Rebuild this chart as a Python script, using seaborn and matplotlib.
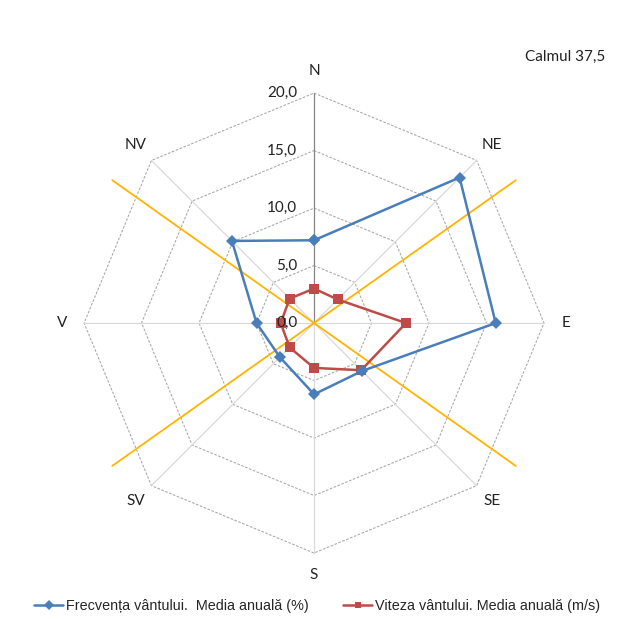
import numpy as np
import pandas as pd
import matplotlib
matplotlib.use("Agg")
import matplotlib.pyplot as plt
import seaborn as sns

# Wind rose data
directions = ["N", "NE", "E", "SE", "S", "SV", "V", "NV"]
frecventa = [7.2, 17.9, 15.8, 5.9, 6.2, 4.2, 5.0, 10.1]   # %
viteza = [3.0, 2.9, 8.0, 5.8, 3.9, 3.0, 2.9, 3.0]          # m/s
grid_levels = [0, 5, 10, 15, 20]
calm_label = "Calmul 37,5"
label_frecventa = "Frecvența vântului.  Media anuală (%)"
label_viteza = "Viteza vântului. Media anuală (m/s)"

sns.set_style("white")
plt.rcParams["font.family"] = ["Lato", "DejaVu Sans"]

theta = np.linspace(0, 2 * np.pi, len(directions), endpoint=False)
theta_closed = np.append(theta, 2 * np.pi)

df = pd.DataFrame({
    "theta": theta_closed,
    "frecventa": frecventa + frecventa[:1],
    "viteza": viteza + viteza[:1],
})

fig = plt.figure(figsize=(6.28, 6.19), dpi=100)
ax = fig.add_axes([0.1338, 0.1066, 0.7325, 0.743], projection="polar")
ax.set_theta_zero_location("N")
ax.set_theta_direction(-1)
ax.set_ylim(0, grid_levels[-1])
ax.grid(False)
ax.set_xticks([])
ax.set_yticks([])
ax.spines["polar"].set_visible(False)
ax.patch.set_alpha(0)

# octagon grid
for lvl in grid_levels[1:]:
    ax.plot(theta_closed, [lvl] * len(theta_closed), color="#a6a6a6",
            lw=0.75, ls=(0, (2.5, 1.5)), zorder=1, clip_on=False)

# spokes
for i, t in enumerate(theta):
    col = "#868686" if i == 0 else "#d9d9d9"
    ax.plot([t, t], [0, grid_levels[-1]], color=col, lw=0.9, zorder=1, clip_on=False)

# orange cross lines
cross_angle = np.deg2rad(54.7)
for a in [cross_angle, -cross_angle]:
    ax.plot([a, 0, a + np.pi], [21.5, 0, 21.5], color="#ffb400", lw=1.3,
            zorder=2, clip_on=False)

# series
sns.lineplot(data=df, x="theta", y="viteza", ax=ax, sort=False, estimator=None,
             color="#be4b48", lw=1.8, marker="s", markersize=7, markeredgewidth=0,
             label=label_viteza, zorder=3)
sns.lineplot(data=df, x="theta", y="frecventa", ax=ax, sort=False, estimator=None,
             color="#4a7ebb", lw=1.8, marker="D", markersize=6, markeredgewidth=0,
             label=label_frecventa, zorder=4)

# radial value labels
for lvl in grid_levels:
    ax.annotate(f"{lvl:.1f}".replace(".", ","), xy=(0, lvl), xytext=(-12, 0),
                textcoords="offset points", ha="right", va="center",
                fontsize=11, color="#222222", zorder=5)

# direction labels
for t, d in zip(theta, directions):
    ax.text(t, 21.9, d, ha="center", va="center", fontsize=11, color="#222222",
            clip_on=False)

ax.set_xlabel("")
ax.set_ylabel("")
handles, labels = ax.get_legend_handles_labels()
ax.get_legend().remove()
leg = fig.legend(handles[::-1], labels[::-1], loc="center", bbox_to_anchor=(0.505, 1 - 606 / 619),
                 ncol=2, frameon=False, handlelength=2.0, columnspacing=2.4, handletextpad=0.2,
                 prop={"family": "Liberation Sans", "size": 10.4})
for lh in leg.legend_handles:
    lh.set_markersize(5)

fig.text(565 / 628, 1 - 57 / 619, calm_label, ha="center", va="center",
         fontsize=11, color="#222222")

fig.savefig("out.png", dpi=100)
